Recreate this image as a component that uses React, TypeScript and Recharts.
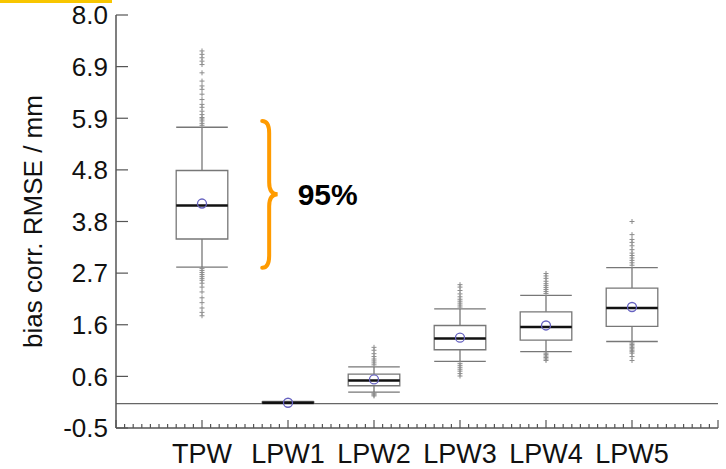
import { ComposedChart, XAxis, YAxis, Scatter, ReferenceArea, ReferenceLine } from "recharts";

const categories = ["TPW", "LPW1", "LPW2", "LPW3", "LPW4", "LPW5"];
const positions = [1, 2, 3, 4, 5, 6];
const whiskerLow = [2.81, 0.0, 0.24, 0.87, 1.07, 1.28];
const q1 = [3.39, 0.005, 0.37, 1.11, 1.31, 1.59];
const median = [4.08, 0.02, 0.48, 1.34, 1.58, 1.97];
const q3 = [4.8, 0.035, 0.61, 1.61, 1.89, 2.38];
const whiskerHigh = [5.69, 0.05, 0.76, 1.95, 2.23, 2.8];
const mean = [4.12, 0.02, 0.5, 1.36, 1.61, 1.99];

const outliersTPW = [
  5.73, 5.77, 5.82, 5.86, 5.89, 5.95, 6.02, 6.1, 6.16, 6.26, 6.37, 6.47, 6.54, 6.64, 6.81, 6.98, 7.05,
  7.12, 7.19, 7.26, 2.78, 2.74, 2.7, 2.66, 2.62, 2.58, 2.54, 2.48, 2.4, 2.3, 2.18, 2.08, 1.97, 1.88, 1.81,
];
const outliersLPW1: number[] = [];
const outliersLPW2 = [0.8, 0.84, 0.88, 0.92, 0.97, 1.03, 1.1, 1.16, 0.22, 0.2, 0.18, 0.16];
const outliersLPW3 = [
  1.99, 2.03, 2.07, 2.11, 2.15, 2.2, 2.26, 2.33, 2.4, 2.45, 0.83, 0.79, 0.75, 0.71, 0.67, 0.62, 0.57,
];
const outliersLPW4 = [
  2.27, 2.31, 2.35, 2.39, 2.43, 2.47, 2.52, 2.58, 2.63, 2.68, 1.04, 1.01, 0.98, 0.95, 0.92, 0.89,
];
const outliersLPW5 = [
  2.85, 2.9, 2.95, 3.0, 3.05, 3.1, 3.17, 3.25, 3.32, 3.38, 3.48, 3.75, 1.25, 1.22, 1.19, 1.16, 1.13, 1.1,
  1.07, 1.04, 0.97, 0.89,
];
const outliers = [outliersTPW, outliersLPW1, outliersLPW2, outliersLPW3, outliersLPW4, outliersLPW5];

const yTickValues = [-0.5, 0.5625, 1.625, 2.6875, 3.75, 4.8125, 5.875, 6.9375, 8.0];
const yTickLabels = ["-0.5", "0.6", "1.6", "2.7", "3.8", "4.8", "5.9", "6.9", "8.0"];
const xMinorTicks = Array.from({ length: 71 }, (_, i) => i / 10);

// the orange brace marks the 95% range of TPW
const braceRange = [2.8, 5.82];
const braceX = [1.7, 1.88];

const FONT = "'Liberation Sans', Arial, sans-serif";
const BOX = 0.3;

const meanData = positions.map((x, i) => ({ x, y: mean[i] }));
const outlierData = outliers.flatMap((list, i) => list.map((y) => ({ x: positions[i], y })));

function BottomTick(props: any) {
  const { x, y, payload } = props;
  const v = payload.value;
  const major = Math.abs(v - Math.round(v)) < 1e-6;
  const idx = major ? positions.indexOf(Math.round(v)) : -1;
  return (
    <g>
      <line x1={x} x2={x} y1={y} y2={y - (major ? 8 : 4)} stroke="#555" strokeWidth={1.2} />
      {idx >= 0 && (
        <text x={x} y={y + 35} textAnchor="middle" fontFamily={FONT} fontSize={27} fill="#111">
          {categories[idx]}
        </text>
      )}
    </g>
  );
}

function TopTick(props: any) {
  const { x, y, payload } = props;
  const v = payload.value;
  const major = Math.abs(v - Math.round(v)) < 1e-6;
  return <line x1={x} x2={x} y1={y} y2={y + (major ? 8 : 4)} stroke="#555" strokeWidth={1.2} />;
}

function LeftTick(props: any) {
  const { x, y, index } = props;
  return (
    <g>
      <line x1={x} x2={x + 12} y1={y} y2={y} stroke="#555" strokeWidth={1.2} />
      <text x={x - 8} y={y} dy="0.36em" textAnchor="end" fontFamily={FONT} fontSize={26} fill="#111">
        {yTickLabels[index]}
      </text>
    </g>
  );
}

function RightTick(props: any) {
  const { x, y } = props;
  return <line x1={x} x2={x - 12} y1={y} y2={y} stroke="#555" strokeWidth={1.2} />;
}

function YTitle(props: any) {
  const vb = props.viewBox || { y: 15, height: 413 };
  const cy = vb.y + vb.height / 2;
  return (
    <text
      x={42}
      y={cy}
      transform={`rotate(-90 42 ${cy})`}
      textAnchor="middle"
      fontFamily={FONT}
      fontSize={26}
      fill="#111"
    >
      bias corr. RMSE / mm
    </text>
  );
}

function Plus(props: any) {
  const { cx, cy } = props;
  return (
    <g stroke="#8c8c8c" strokeWidth={1}>
      <line x1={cx - 2.5} x2={cx + 2.5} y1={cy} y2={cy} />
      <line x1={cx} x2={cx} y1={cy - 2.5} y2={cy + 2.5} />
    </g>
  );
}

function MeanDot(props: any) {
  const { cx, cy } = props;
  return <circle cx={cx} cy={cy} r={4.5} fill="none" stroke="#6662c0" strokeWidth={1.3} />;
}

function Brace(props: any) {
  const { x, y, width, height } = props;
  const v = x + width * 0.45;
  const r = 12;
  const mid = y + height / 2;
  const b = y + height;
  const d = `M${x},${y} Q${v},${y} ${v},${y + r} L${v},${mid - r} Q${v},${mid} ${x + width},${mid} Q${v},${mid} ${v},${mid + r} L${v},${b - r} Q${v},${b} ${x},${b}`;
  return (
    <g>
      <path d={d} fill="none" stroke="#ff9b00" strokeWidth={4} strokeLinecap="round" />
      <text x={x + width + 20} y={mid + 11} fontFamily={FONT} fontSize={30} fontWeight="bold" fill="#000">
        95%
      </text>
    </g>
  );
}

export default function App() {
  return (
    <div style={{ position: "absolute", left: 0, top: 0, width: 726, height: 469, background: "#fff" }}>
      <div style={{ position: "absolute", left: 0, top: 0, width: 112, height: 3, background: "#f8c600" }} />
      <ComposedChart width={726} height={469} margin={{ top: 15, right: 8, bottom: 0, left: 0 }}>
        <XAxis
          xAxisId={0}
          type="number"
          dataKey="x"
          domain={[0, 7]}
          ticks={xMinorTicks}
          interval={0}
          height={41}
          tickSize={0}
          tickMargin={0}
          tickLine={false}
          axisLine={{ stroke: "#555", strokeWidth: 1.5 }}
          tick={<BottomTick />}
        />
        <XAxis
          xAxisId="top"
          orientation="top"
          type="number"
          dataKey="x"
          domain={[0, 7]}
          ticks={xMinorTicks}
          interval={0}
          height={0}
          tickSize={0}
          tickMargin={0}
          tickLine={false}
          axisLine={{ stroke: "#555", strokeWidth: 1.5 }}
          tick={<TopTick />}
        />
        <YAxis
          yAxisId={0}
          type="number"
          dataKey="y"
          domain={[-0.5, 8]}
          ticks={yTickValues}
          interval={0}
          width={116}
          tickSize={0}
          tickMargin={0}
          tickLine={false}
          axisLine={{ stroke: "#555", strokeWidth: 1.5 }}
          tick={<LeftTick />}
          label={<YTitle />}
        />
        <YAxis
          yAxisId="right"
          orientation="right"
          type="number"
          domain={[-0.5, 8]}
          ticks={yTickValues}
          interval={0}
          width={0}
          tickSize={0}
          tickMargin={0}
          tickLine={false}
          axisLine={{ stroke: "#555", strokeWidth: 1.5 }}
          tick={<RightTick />}
        />
        <ReferenceLine y={0} stroke="#666" strokeWidth={1.2} />
        {positions.map((p, i) => (
          <ReferenceLine
            key={`wu${i}`}
            segment={[
              { x: p, y: q3[i] },
              { x: p, y: whiskerHigh[i] },
            ]}
            stroke="#777"
            strokeWidth={1.3}
          />
        ))}
        {positions.map((p, i) => (
          <ReferenceLine
            key={`wl${i}`}
            segment={[
              { x: p, y: whiskerLow[i] },
              { x: p, y: q1[i] },
            ]}
            stroke="#777"
            strokeWidth={1.3}
          />
        ))}
        {positions.map((p, i) => (
          <ReferenceLine
            key={`cu${i}`}
            segment={[
              { x: p - BOX, y: whiskerHigh[i] },
              { x: p + BOX, y: whiskerHigh[i] },
            ]}
            stroke="#777"
            strokeWidth={1.3}
          />
        ))}
        {positions.map((p, i) => (
          <ReferenceLine
            key={`cl${i}`}
            segment={[
              { x: p - BOX, y: whiskerLow[i] },
              { x: p + BOX, y: whiskerLow[i] },
            ]}
            stroke="#777"
            strokeWidth={1.3}
          />
        ))}
        {positions.map((p, i) => (
          <ReferenceArea
            key={`b${i}`}
            x1={p - BOX}
            x2={p + BOX}
            y1={q1[i]}
            y2={q3[i]}
            fill="none"
            fillOpacity={0}
            stroke="#777"
            strokeWidth={1.3}
          />
        ))}
        {positions.map((p, i) => (
          <ReferenceLine
            key={`m${i}`}
            segment={[
              { x: p - BOX, y: median[i] },
              { x: p + BOX, y: median[i] },
            ]}
            stroke="#111"
            strokeWidth={2.5}
          />
        ))}
        <ReferenceArea
          x1={braceX[0]}
          x2={braceX[1]}
          y1={braceRange[0]}
          y2={braceRange[1]}
          shape={(p: any) => <Brace {...p} />}
        />
        <Scatter data={outlierData} shape={<Plus />} isAnimationActive={false} />
        <Scatter data={meanData} shape={<MeanDot />} isAnimationActive={false} />
      </ComposedChart>
    </div>
  );
}
